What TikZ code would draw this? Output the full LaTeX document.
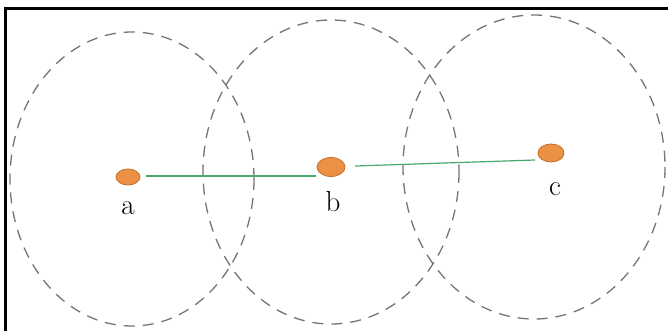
\documentclass[tikz,border=0pt]{standalone}
\usetikzlibrary{shapes.geometric}
\definecolor{dotfill}{RGB}{235,145,70}
\definecolor{dotline}{RGB}{200,110,40}
\definecolor{linkc}{RGB}{70,170,110}
\definecolor{zonec}{RGB}{125,115,112}
\begin{document}
\begin{tikzpicture}[x=1pt,y=-1pt,
  zone/.style={draw=zonec, line width=1.3pt, dash pattern=on 11pt off 8pt},
  dot/.style={ellipse, draw=dotline, fill=dotfill, line width=0.8pt, inner sep=0pt},
  link/.style={draw=linkc, line width=1.2pt},
  lbl/.style={font=\fontsize{29}{29}\selectfont}]
\useasboundingbox (0,0) rectangle (668,331);
\fill[white] (0,0) rectangle (668,331);
\draw[line width=3pt] (5,331) -- (5,9) -- (668,9);
\draw[zone] (132,179) ellipse [x radius=122, y radius=147];
\draw[zone] (331,172) ellipse [x radius=128, y radius=152];
\draw[zone] (534,167) ellipse [x radius=131, y radius=152];
\node[dot, minimum width=24pt, minimum height=16pt] (a) at (128,177) {};
\node[dot, minimum width=28pt, minimum height=19pt] (b) at (331,167) {};
\node[dot, minimum width=26pt, minimum height=18pt] (c) at (551,153) {};
\coordinate (a1) at (146,176);
\coordinate (b1) at (316,176);
\coordinate (b2) at (355,166);
\coordinate (c1) at (535,160);
\draw[link] (a1) -- (b1);
\draw[link] (b2) -- (c1);
\node[lbl] (la) at (128,208) {a};
\node[lbl] (lb) at (333,202) {b};
\node[lbl] (lc) at (555,189) {c};
\end{tikzpicture}
\end{document}
